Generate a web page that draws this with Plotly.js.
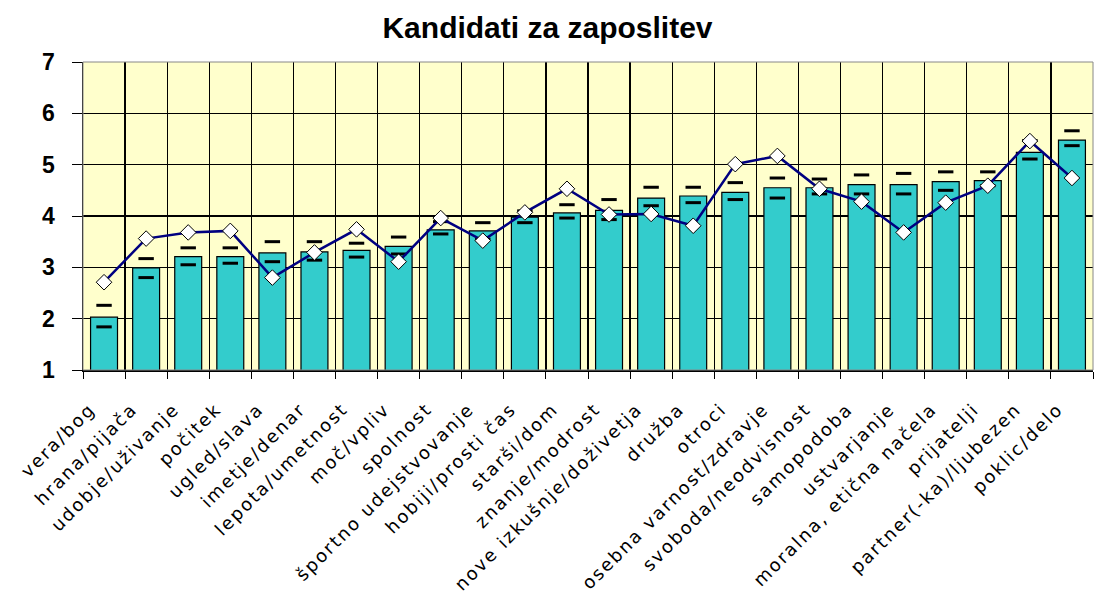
<!DOCTYPE html>
<html><head><meta charset="utf-8">
<script src="https://cdn.plot.ly/plotly-3.0.1.min.js"></script>
<style>html,body{margin:0;padding:0;background:#fff}#chart{width:1095px;height:608px}
#chart .xaxislayer-above .xtick text{letter-spacing:2px}</style>
</head><body><div id="chart"></div>
<script>
const categories = ["vera/bog","hrana/pijača","udobje/uživanje","počitek","ugled/slava","imetje/denar","lepota/umetnost","moč/vpliv","spolnost","športno udejstvovanje","hobiji/prosti čas","starši/dom","znanje/modrost","nove izkušnje/doživetja","družba","otroci","osebna varnost/zdravje","svoboda/neodvisnost","samopodoba","ustvarjanje","moralna, etična načela","prijatelji","partner(-ka)/ljubezen","poklic/delo"];
const barValues = [2.03,2.99,3.21,3.21,3.28,3.30,3.33,3.41,3.73,3.71,3.98,4.06,4.11,4.35,4.39,4.46,4.55,4.55,4.61,4.61,4.67,4.69,5.24,5.48];
const upperValues = [2.26,3.17,3.38,3.38,3.50,3.50,3.47,3.59,3.89,3.87,4.10,4.22,4.32,4.56,4.56,4.65,4.74,4.72,4.80,4.83,4.86,4.86,5.47,5.66];
const lowerValues = [1.84,2.80,3.05,3.08,3.11,3.14,3.20,3.26,3.65,3.55,3.87,3.96,3.93,4.20,4.26,4.32,4.35,4.43,4.43,4.43,4.50,4.59,5.11,5.37];
const lineValues = [2.71,3.56,3.68,3.71,2.80,3.29,3.74,3.11,3.96,3.52,4.07,4.53,4.03,4.04,3.81,5.01,5.17,4.53,4.28,3.68,4.26,4.59,5.46,4.74];

const traces = [
  {type:'bar', x:categories, y:barValues, base:0, marker:{color:'#33CCCC', line:{color:'#000', width:1.2}}, hoverinfo:'y'},
  {type:'scatter', mode:'markers', x:categories, y:upperValues, marker:{symbol:'line-ew', size:11, line:{color:'#000', width:3}}},
  {type:'scatter', mode:'markers', x:categories, y:lowerValues, marker:{symbol:'line-ew', size:11, line:{color:'#000', width:3}}},
  {type:'scatter', mode:'lines+markers', x:categories, y:lineValues, line:{color:'#000080', width:2.5}, marker:{symbol:'diamond', size:12, color:'#fff', line:{color:'#000', width:1}}}
];

const layout = {
  width:1095, height:608,
  margin:{l:83, r:2, t:62, b:238},
  paper_bgcolor:'#fff', plot_bgcolor:'#FFFFCC',
  showlegend:false, bargap:0.36,
  title:{text:'<b>Kandidati za zaposlitev</b>', x:0.5, xanchor:'center', y:0.955, yanchor:'middle', font:{family:'Liberation Sans, Arial, sans-serif', size:30, color:'#000'}},
  xaxis:{type:'category', range:[-0.5,23.5], tickson:'boundaries', showgrid:true, gridcolor:'#000', gridwidth:1.2,
    ticks:'outside', ticklen:7, tickcolor:'#000', showline:true, linecolor:'#000', linewidth:1.5,
    tickangle:-45, ticklabelstandoff:20, ticklabelshift:-14,
    tickfont:{family:'DejaVu Sans, Verdana, sans-serif', size:18, color:'#000'}, automargin:false},
  yaxis:{range:[1,7], dtick:1, showgrid:true, gridcolor:'#000', gridwidth:1.2, zeroline:false,
    ticks:'outside', ticklen:10, tickcolor:'#000', showline:true, linecolor:'#000', linewidth:1.5,
    ticklabelstandoff:12,
    tickfont:{family:'Liberation Sans, Arial, sans-serif', size:23, color:'#000', weight:'bold'}, automargin:false},
  shapes:[{type:'rect', xref:'paper', yref:'paper', x0:0, x1:1, y0:0, y1:1, line:{color:'#888', width:1}, layer:'above'}]
};
Plotly.newPlot('chart', traces, layout, {displayModeBar:false, staticPlot:true});
</script></body></html>
